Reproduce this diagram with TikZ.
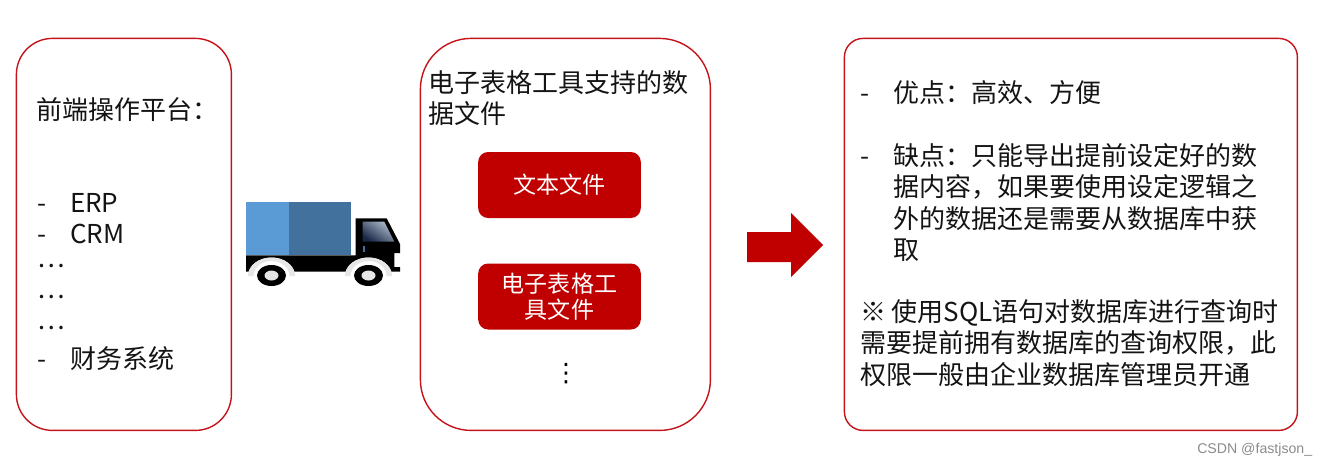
\documentclass[tikz,border=0pt]{standalone}
\usepackage{fontspec}
\setmainfont{Noto Sans CJK SC}
\newfontfamily\wmfont{Liberation Sans}
\newfontfamily\djfont{DejaVu Sans}
\definecolor{brand}{HTML}{C00000}
\definecolor{panelline}{HTML}{C4141A}
\definecolor{wheelgrey}{HTML}{E6E6E6}
\definecolor{boxlight}{RGB}{91,155,213}
\definecolor{boxdark}{RGB}{65,113,156}
\definecolor{glasslight}{RGB}{175,188,205}
\definecolor{glassdark}{RGB}{25,40,70}
\tikzset{
  panel/.style={draw=panelline,line width=1.05pt,fill=white,inner sep=0pt,outer sep=0pt,anchor=north west},
  redbox/.style={fill=brand,rounded corners=7.5pt,inner sep=0pt,outer sep=0pt,minimum width=122pt,minimum height=49.5pt},
  redtext/.style={inner sep=0pt,outer sep=0pt,text=white,align=center,font=\fontsize{17.3}{19.5}\selectfont},
  txt/.style={anchor=base west,inner sep=0pt,outer sep=0pt,text=black!92,font=\fontsize{19.5}{23}\selectfont},
  fender/.style={fill=wheelgrey},
}
\begin{document}
\begin{tikzpicture}[x=0.75pt,y=-0.75pt]
\useasboundingbox[fill=white] (0,0) rectangle (1327,465);
% panels
\node[panel,rounded corners=27pt,minimum width=161.25pt,minimum height=294pt] (left) at (16.4,38.4) {};
\node[panel,rounded corners=38pt,minimum width=217.5pt,minimum height=294pt] (mid) at (420.4,38.4) {};
\node[panel,rounded corners=14pt,minimum width=339.75pt,minimum height=294pt] (right) at (844.4,38.4) {};
% left text
\node[txt] (l1) at (36.5,119) {前端操作平台：};
\node[txt] (l2a) at (37,212) {-};
\node[txt] (l2b) at (70,212) {ERP};
\node[txt] (l3a) at (37,243) {-};
\node[txt] (l3b) at (70,243) {CRM};
\node[txt] (l4) at (37,267) {…};
\node[txt] (l5) at (37,298) {…};
\node[txt] (l6) at (37,329) {…};
\node[txt] (l7a) at (37,368) {-};
\node[txt] (l7b) at (70,368) {财务系统};
% truck
\fill[black] (246,255.3) -- (355.7,255.3) -- (355.7,218.3) -- (386.7,218.3) -- (400,244) -- (400,253) -- (394.3,253) -- (394.3,267) -- (400,267) -- (400,271.5) -- (246,271.5) -- cycle;
\fill[boxlight] (246,202) rectangle (288.5,255.3);
\fill[boxdark] (288.5,202) rectangle (350.5,255.3);
\foreach \cx in {271.5,368.5}{
  \fill[white] (\cx,276) ellipse[x radius=23.5,y radius=18.5];
  \fill[fender] (\cx-23.5,276) arc[start angle=180,end angle=360,x radius=23.5,y radius=18.5] -- (\cx+18,276) arc[start angle=360,end angle=180,x radius=18,y radius=15] -- cycle;
  \fill[black] (\cx,275.5) ellipse[x radius=14.5,y radius=10.5];
  \fill[wheelgrey] (\cx,275.5) ellipse[x radius=7,y radius=5];
}
\shade[top color=glasslight,bottom color=glassdark,shading angle=-35] (362.7,221.7) -- (384.3,221.7) -- (394.3,241.7) -- (362.7,241.7) -- cycle;
\fill[boxdark] (363.3,245.5) rectangle (365.2,251.7);
% middle text
\node[txt] (m1) at (428,92) {电子表格工具支持的数};
\node[txt] (m2) at (428,123) {据文件};
\node[redbox] (r1) at (559.5,185) {};
\node[redtext] (r1t) at (r1) {文本文件};
\node[redbox] (r2) at (559.5,296.5) {};
\node[redtext] (r2t) at (r2) {电子表格工\\具文件};
\node[inner sep=0pt,font=\djfont\fontsize{19}{23}\selectfont] (dots) at (566,374) {⋮};
% arrow
\fill[brand] (747,232) -- (791,232) -- (791,213) -- (823,245) -- (791,277) -- (791,262) -- (747,262) -- cycle;
% right text
\node[txt] (a1) at (860,102) {-};
\node[txt] (a2) at (893,102) {优点：高效、方便};
\node[txt] (b1) at (860,165) {-};
\node[txt] (b2) at (893,165) {缺点：只能导出提前设定好的数};
\node[txt] (b3) at (893,196) {据内容，如果要使用设定逻辑之};
\node[txt] (b4) at (893,228) {外的数据还是需要从数据库中获};
\node[txt] (b5) at (893,259) {取};
\node[txt] (c1) at (860,321) {※ 使用SQL语句对数据库进行查询时};
\node[txt] (c2) at (860,352) {需要提前拥有数据库的查询权限，此};
\node[txt] (c3) at (860,384) {权限一般由企业数据库管理员开通};
% watermark
\node[anchor=base west,inner sep=0pt,text=black!45,font=\wmfont\fontsize{10.6}{12}\selectfont] (wm) at (1197,453) {CSDN @fastjson\_};
\end{tikzpicture}
\end{document}
